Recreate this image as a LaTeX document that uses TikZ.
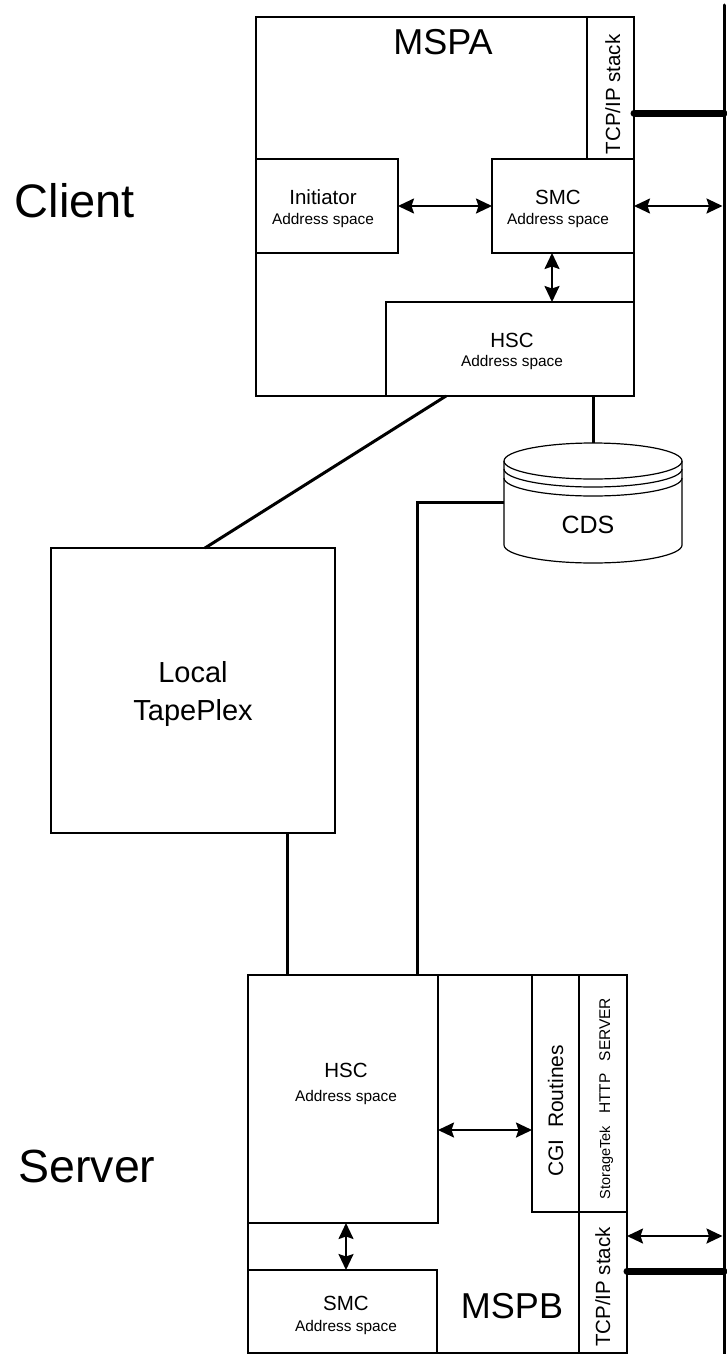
\documentclass[tikz,border=0pt]{standalone}
\usepackage{fontspec}
\setmainfont{Liberation Sans}
\usetikzlibrary{arrows.meta,calc}
\newcommand{\setfs}[1]{\fontsize{#1}{#1}\selectfont}
\newcommand{\rbox}[5]{\node[box, minimum width={#4-#2}, minimum height={#5-#3}] (#1) at ({(#2+#4)/2},{(#3+#5)/2}) {};}
\begin{document}
\begin{tikzpicture}[x=1pt,y=-1pt,
  box/.style={draw, line width=1.3pt, inner sep=0pt, outer sep=0pt},
  txt/.style={inner sep=0pt, outer sep=0pt, anchor=base},
  conn/.style={line width=3pt},
  arr/.style={line width=2pt, {Stealth[length=16pt,width=15pt,inset=2.5pt]}-{Stealth[length=16pt,width=15pt,inset=2.5pt]}},
  thick line/.style={line width=7pt, line cap=round},
  bus/.style={line width=3pt, line cap=round}]
\useasboundingbox (0,0) rectangle (726,1354);

% ---- client side (MSPA) ----
\rbox{mspa}{256}{17}{634}{396}
\rbox{tcpA}{587}{17}{634}{159}
\rbox{init}{256}{159}{398}{253}
\rbox{smcA}{492}{159}{634}{253}
\rbox{hscA}{386}{302}{634}{396}

\node[txt, font=\setfs{36}] (tMSPA) at (443,55) {MSPA};
\node[txt, rotate=90, font=\setfs{20.5}] (tTCPA) at (620,94.5) {TCP/IP stack};
\node[txt, font=\setfs{20.5}] (tInit) at (323,204) {Initiator};
\node[txt, font=\setfs{15.4}] (tInitA) at (323,224) {Address space};
\node[txt, font=\setfs{20.5}] (tSmcA) at (558,204) {SMC};
\node[txt, font=\setfs{15.4}] (tSmcAA) at (558,224) {Address space};
\node[txt, font=\setfs{20.5}] (tHscA) at (512,347) {HSC};
\node[txt, font=\setfs{15.4}] (tHscAA) at (512,366) {Address space};

\node[txt, font=\setfs{47}] (tClient) at (75,217) {Client};
\node[txt, font=\setfs{46.5}] (tServer) at (87,1182) {Server};

% ---- CDS cylinder ----
\node[inner sep=0pt, outer sep=0pt, minimum width=178, minimum height=119] (cds) at (593,502.5) {};
\draw[line width=1.2pt] (593,461) ellipse [x radius=89pt, y radius=18pt];
\draw[line width=1.2pt] (504,469) arc [start angle=180, end angle=360, x radius=89pt, y radius=18pt];
\draw[line width=1.2pt] (504,478) arc [start angle=180, end angle=360, x radius=89pt, y radius=18pt];
\draw[line width=1.2pt] (504,461) -- (504,545) arc [start angle=180, end angle=360, x radius=89pt, y radius=18pt] -- (682,461);
\node[txt, font=\setfs{25}] (tCDS) at (588,533) {CDS};

% ---- Local TapePlex ----
\rbox{tp}{51}{548}{335}{833}
\node[txt, font=\setfs{29}] (tLocal) at (193,682) {Local};
\node[txt, font=\setfs{29}] (tTape) at (193,720) {TapePlex};

% ---- server side (MSPB) ----
\rbox{mspb}{248}{975}{627}{1353}
\rbox{hscB}{248}{975}{438}{1223}
\rbox{cgi}{532}{975}{579}{1212}
\rbox{http}{579}{975}{627}{1212}
\rbox{tcpB}{579}{1212}{627}{1353}
\rbox{smcB}{248}{1270}{437}{1353}

\node[txt, font=\setfs{20.5}] (tHscB) at (346,1077) {HSC};
\node[txt, font=\setfs{15.4}] (tHscBA) at (346,1101) {Address space};
\node[txt, font=\setfs{20.5}] (tSmcB) at (346,1310) {SMC};
\node[txt, font=\setfs{15.4}] (tSmcBA) at (346,1331) {Address space};
\node[txt, font=\setfs{36}] (tMSPB) at (512,1318) {MSPB};
\node[txt, rotate=90, font=\setfs{20.5}] (tTCPB) at (610,1287) {TCP/IP stack};
\node[txt, rotate=90, font=\setfs{21}] (tCGI) at (563,1111) {CGI\ \ Routines};
\node[txt, rotate=90] (tHTTP) at (610,1098.5) {\setfs{14.5}StorageTek\hspace{12pt}\setfs{15.5}HTTP\hspace{12pt}SERVER};

% ---- network bus ----
\coordinate (busT) at (724,5);
\coordinate (busB) at (724,1354);
\draw[bus] (busT) -- (busB);

% ---- connectors ----
\draw[arr] (init.east) -- (smcA.west);
\draw[arr, shorten >=1.5pt] (smcA.east) -- (smcA.east -| busT);
\draw[arr] ([xshift=60pt]smcA.south west) -- ([xshift=60pt]smcA.south west |- hscA.north);
\draw[thick line] ([yshift=-25pt]tcpA.east) -- ([yshift=-25pt]tcpA.east -| busT);

\draw[conn] ([xshift=60pt]hscA.south west) -- ([xshift=154pt]tp.north west);
\draw[conn] ([xshift=207pt]hscA.south west) -- (cds.north);
\draw[conn] (cds.west) -| ([xshift=169pt]hscB.north west);
\draw[conn] ([xshift=236pt]tp.south west) -- ([xshift=236pt]tp.south west |- hscB.north);

\draw[arr] ([yshift=-31pt]hscB.east) -- ([yshift=-31pt]hscB.east -| cgi.west);
\draw[arr] ([xshift=98pt]hscB.south west) -- ([xshift=98pt]hscB.south west |- smcB.north);
\draw[arr, shorten >=1.5pt] ([yshift=46.5pt]tcpB.east) -- ([yshift=46.5pt]tcpB.east -| busT);
\draw[thick line] ([yshift=11.5pt]tcpB.east) -- ([yshift=11.5pt]tcpB.east -| busT);
\end{tikzpicture}
\end{document}
